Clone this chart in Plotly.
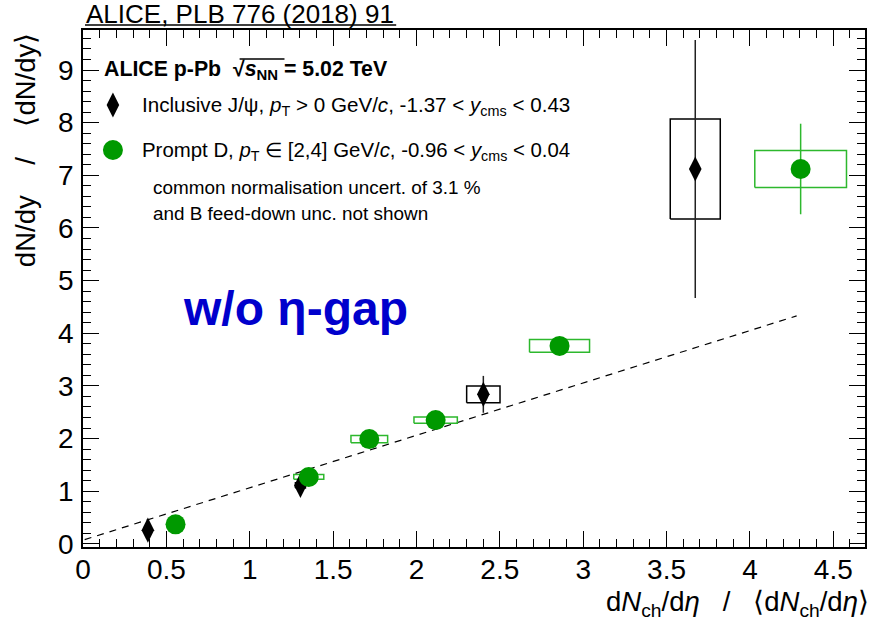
import plotly.graph_objects as go

# ---- data -------------------------------------------------------------
# inclusive J/psi, pT > 0
jpsi_x = [0.389, 1.304, 2.401, 3.672]
jpsi_y = [0.26, 1.11, 2.84, 7.12]
jpsi_stat = [0.05, 0.06, 0.35, 2.45]
jpsi_syst = [0.04, 0.05, 0.16, 0.95]
jpsi_dx = [0.02, 0.03, 0.10, 0.15]

# prompt D, pT in [2,4]
dmes_x = [0.555, 1.354, 1.717, 2.115, 2.858, 4.304]
dmes_y = [0.37, 1.27, 1.99, 2.35, 3.76, 7.12]
dmes_stat = [0.03, 0.04, 0.05, 0.06, 0.09, 0.86]
dmes_syst = [0.02, 0.045, 0.07, 0.06, 0.12, 0.35]
dmes_dx = [0.03, 0.09, 0.11, 0.13, 0.18, 0.275]

# linear reference
line_x = [0.01, 4.28]
line_y = [0.08, 4.33]

x_ticks = [0, 0.5, 1, 1.5, 2, 2.5, 3, 3.5, 4, 4.5]
x_ticklabels = ["0", "0.5", "1", "1.5", "2", "2.5", "3", "3.5", "4", "4.5"]
y_ticks = list(range(0, 10))
y_ticklabels = [str(v) for v in y_ticks]

# ---- styling ----------------------------------------------------------
W, H = 876, 627
L, R, T, B = 83, 9, 30, 80
FONT = "Liberation Sans, Arial, Helvetica, sans-serif"
BLACK = "#000000"
GREEN = "#009900"
GREEN_BOX = "#2db82d"
NB = "\u00a0"


def paper(px, py):
    """pixel position on the page -> paper coordinates"""
    return (px - L) / (W - L - R), (H - B - py) / (H - T - B)


def box_path(xs, ys, dxs, dys):
    bx, by = [], []
    for x, y, dx, dy in zip(xs, ys, dxs, dys):
        bx += [x - dx, x + dx, x + dx, x - dx, x - dx, None]
        by += [y - dy, y - dy, y + dy, y + dy, y - dy, None]
    return bx, by


fig = go.Figure()

# reference line
fig.add_trace(go.Scatter(x=line_x, y=line_y, mode="lines",
                         line=dict(color=BLACK, width=1.2, dash="7px,6px"),
                         hoverinfo="skip"))

# systematic boxes
bx, by = box_path(jpsi_x, jpsi_y, jpsi_dx, jpsi_syst)
fig.add_trace(go.Scatter(x=bx, y=by, mode="lines",
                         line=dict(color=BLACK, width=1.5), hoverinfo="skip"))
bx, by = box_path(dmes_x, dmes_y, dmes_dx, dmes_syst)
fig.add_trace(go.Scatter(x=bx, y=by, mode="lines",
                         line=dict(color=GREEN_BOX, width=1.5), hoverinfo="skip"))

# points with statistical errors
fig.add_trace(go.Scatter(
    x=jpsi_x, y=jpsi_y, mode="markers",
    marker=dict(symbol="diamond-tall", size=18, color=BLACK),
    error_y=dict(type="data", array=jpsi_stat, color="#222222",
                 thickness=1.5, width=0)))
fig.add_trace(go.Scatter(
    x=dmes_x, y=dmes_y, mode="markers",
    marker=dict(symbol="circle", size=20, color=GREEN),
    error_y=dict(type="data", array=dmes_stat, color=GREEN_BOX,
                 thickness=1.5, width=0)))

# legend symbols on a pixel-like overlay axis
leg_px = [113, 113]
leg_py = [105, 150]
fig.add_trace(go.Scatter(x=[leg_px[0]], y=[leg_py[0]], xaxis="x2", yaxis="y2",
                         mode="markers",
                         marker=dict(symbol="diamond-tall", size=18, color=BLACK),
                         hoverinfo="skip"))
fig.add_trace(go.Scatter(x=[leg_px[1]], y=[leg_py[1]], xaxis="x2", yaxis="y2",
                         mode="markers",
                         marker=dict(symbol="circle", size=20, color=GREEN),
                         hoverinfo="skip"))

annotations = []


def add_text(px, py, text, size, xanchor="left", yanchor="middle",
             color=BLACK, angle=0):
    x, y = paper(px, py)
    annotations.append(dict(x=x, y=y, xref="paper", yref="paper", text=text,
                            showarrow=False, xanchor=xanchor, yanchor=yanchor,
                            textangle=angle,
                            font=dict(family=FONT, size=size, color=color)))


add_text(84, 14, "ALICE, PLB 776 (2018) 91", 26)
add_text(102, 70, "<b>ALICE p-Pb" + NB + NB + "√<i>s</i><sub>NN</sub> = 5.02 TeV</b>", 21.3)
add_text(140, 106, "Inclusive J/ψ, <i>p</i><sub>T</sub> &gt; 0 GeV/<i>c</i>, "
         "-1.37 &lt; <i>y</i><sub>cms</sub> &lt; 0.43", 20.6)
add_text(140, 151, "Prompt D, <i>p</i><sub>T</sub> ∈ [2,4] GeV/<i>c</i>, "
         "-0.96 &lt; <i>y</i><sub>cms</sub> &lt; 0.04", 20.4)
add_text(151, 187, "common normalisation uncert. of 3.1 %", 18.9)
add_text(151, 213, "and B feed-down unc. not shown", 18.9)
add_text(181, 309, "<b>w/o η-gap</b>", 48, color="#0000cc")
add_text(873, 603, "d<i>N</i><sub>ch</sub>/d<i>η</i>" + NB * 3 + "/" + NB * 3 +
         "⟨d<i>N</i><sub>ch</sub>/d<i>η</i>⟩", 27.5, xanchor="right")
add_text(25, 31, "dN/dy" + NB * 4 + "/" + NB * 4 + "⟨dN/dy⟩", 27.5,
         xanchor="center", yanchor="top", angle=-90)

shapes = [
    # underline of the reference text
    dict(type="line", xref="paper", yref="paper",
         x0=paper(85, 25)[0], x1=paper(397, 25)[0],
         y0=paper(85, 25)[1], y1=paper(397, 25)[1],
         line=dict(color=BLACK, width=1.5)),
    # bar of the square-root sign
    dict(type="line", xref="paper", yref="paper",
         x0=paper(240, 59)[0], x1=paper(285, 59)[0],
         y0=paper(240, 59)[1], y1=paper(285, 59)[1],
         line=dict(color=BLACK, width=1.5)),
]

axis_common = dict(
    showgrid=False, zeroline=False, showline=True, linecolor=BLACK,
    linewidth=1.5, mirror="allticks", ticks="inside", ticklen=16,
    tickwidth=1.3, tickcolor=BLACK,
    tickfont=dict(family=FONT, size=28, color=BLACK),
)

fig.update_layout(
    width=W, height=H,
    margin=dict(l=L, r=R, t=T, b=B),
    paper_bgcolor="white", plot_bgcolor="white",
    showlegend=False,
    xaxis=dict(range=[0, 4.69], tickvals=x_ticks, ticktext=x_ticklabels,
               minor=dict(dtick=0.1, ticks="inside", ticklen=8,
                          tickwidth=1.2, tickcolor=BLACK),
               ticklabelstandoff=-3, **axis_common),
    yaxis=dict(range=[-0.06, 9.76], tickvals=y_ticks, ticktext=y_ticklabels,
               minor=dict(dtick=0.2, ticks="inside", ticklen=8,
                          tickwidth=1.2, tickcolor=BLACK),
               ticklabelstandoff=2, **axis_common),
    xaxis2=dict(range=[L, W - R], overlaying="x", visible=False),
    yaxis2=dict(range=[H - B, T], overlaying="y", visible=False),
    annotations=annotations,
    shapes=shapes,
)

fig.write_html("out.html")
